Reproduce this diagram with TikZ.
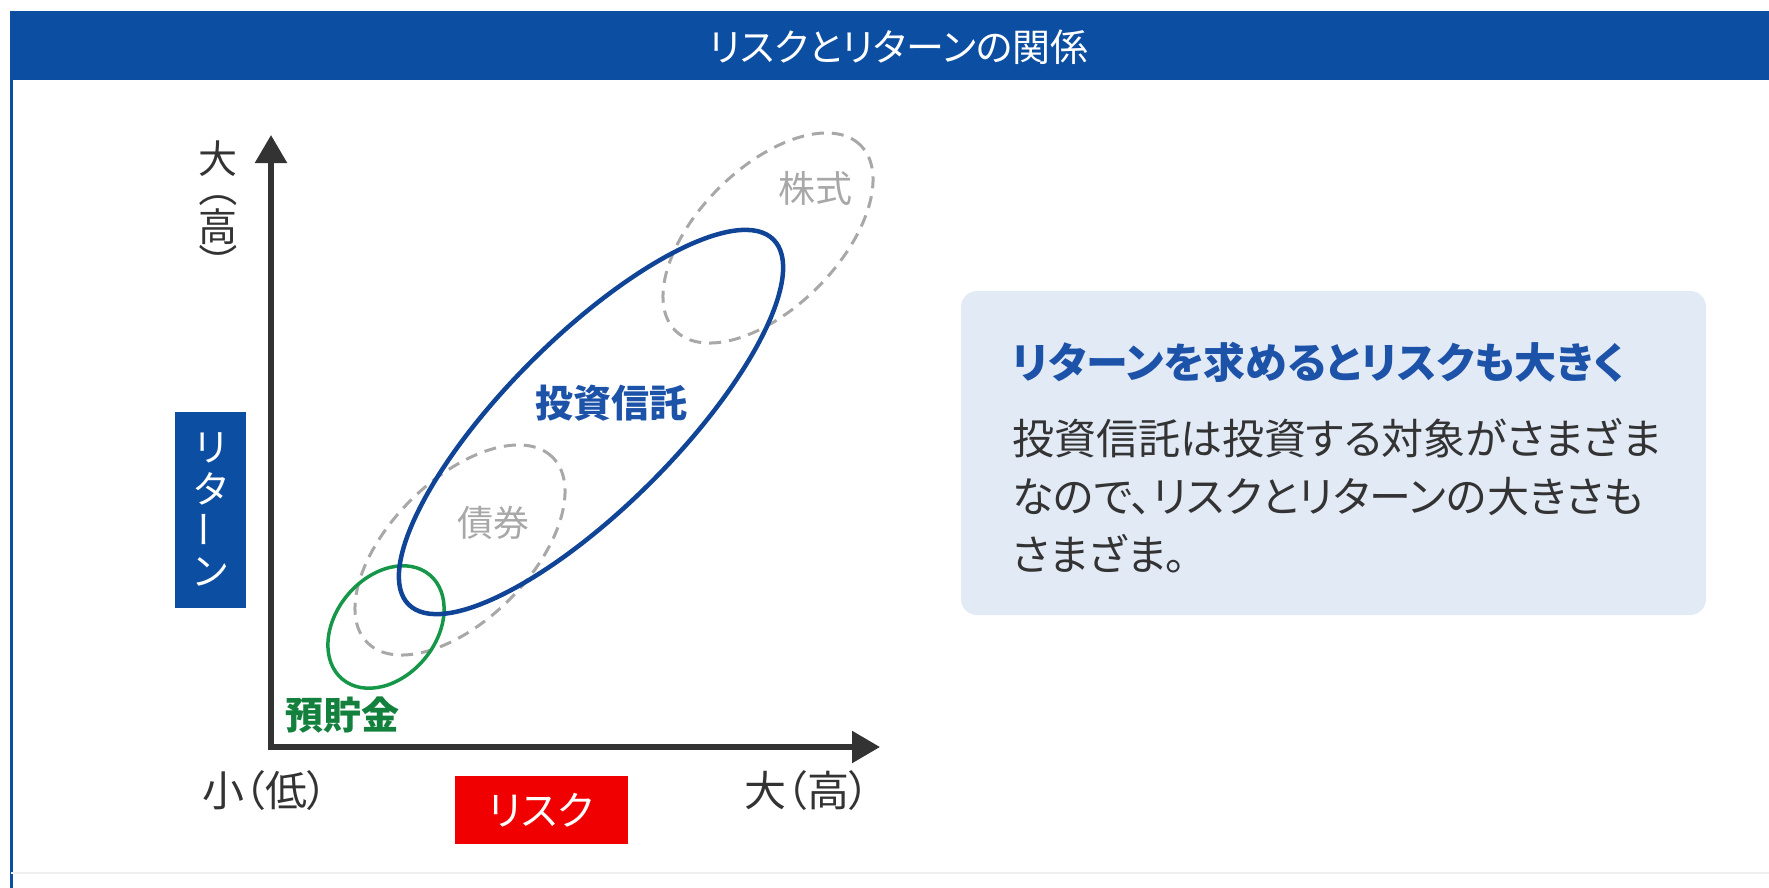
\documentclass[tikz,border=0pt]{standalone}
\usepackage{fontspec}
\usepackage{graphicx}
\setmainfont{Noto Sans CJK JP}[RawFeature=+palt]
\usetikzlibrary{arrows.meta,positioning,shapes.geometric}
\definecolor{headblue}{RGB}{12,78,162}
\definecolor{fundblue}{RGB}{16,68,150}
\definecolor{textblue}{RGB}{28,82,168}
\definecolor{savegreen}{RGB}{22,150,72}
\definecolor{riskred}{RGB}{240,0,0}
\definecolor{dashgray}{RGB}{168,168,168}
\definecolor{axisgray}{RGB}{51,51,51}
\definecolor{ink}{RGB}{51,51,51}
\definecolor{paleblue}{RGB}{226,234,246}
\newcommand{\jsize}[1]{\fontsize{#1}{#1}\selectfont}
\tikzset{
  >={Triangle[width=31pt,length=28pt]},
  axis/.style={<->,line width=5.5pt,draw=axisgray},
  ring/.style={ellipse,draw=#1,line width=4pt,inner sep=0pt},
  dashring/.style={ellipse,draw=dashgray,line width=3pt,dash pattern=on 12pt off 8pt,inner sep=0pt},
  tag/.style={text=#1,inner sep=0pt,font=\jsize{38}},
  tag/.default=ink,
  lay/.style={fill=#1,text=white,inner sep=0pt,font=\jsize{40}},
  vchar/.style={inner sep=0pt,font=\jsize{39}},
}

\begin{document}
\begin{tikzpicture}[x=1pt,y=-1pt]
  \useasboundingbox (0,0) rectangle (1769,888);
  % frame and title bar
  \draw[headblue,line width=3pt] (11,11) -- (11,888);
  \draw[black!6,line width=2pt] (11,873) -- (1769,873);
  \node[fill=headblue,minimum width=1758,minimum height=69,anchor=north west,inner sep=0pt] (head) at (11,11) {};
  \node[text=white,font=\jsize{38}] (title) at (899,47) {リスクとリターンの関係};

  % axes
  \coordinate (o) at (271,747);
  \coordinate (ytip) at (271,135);
  \coordinate (xtip) at (880,747);
  \draw[axis] (xtip) -- (o) -- (ytip);

  % ellipses
  \node[dashring,minimum width=262,minimum height=140,rotate=45] (stock) at (768,238) {};
  \node[dashring,minimum width=262,minimum height=140,rotate=45] (bond) at (460,550) {};
  \node[ring=savegreen,line width=3.5pt,minimum width=136,minimum height=100,rotate=50] (saving) at (386,627) {};
  \node[ring=fundblue,line width=4.5pt,minimum width=516,minimum height=170,rotate=45] (fund) at (591,422) {};

  \node[tag=dashgray,font=\jsize{37}] (stocklbl) at (815,188) {株式};
  \node[tag=dashgray,font=\jsize{36}] (bondlbl) at (493,523) {債券};
  \node[tag=textblue,font=\jsize{38}\bfseries] (fundlbl) at (611,403) {投資信託};
  \node[tag=savegreen!85!black,font=\jsize{38}\bfseries] (savelbl) at (342,715) {預貯金};

  % axis labels
  \foreach \ch/\yy/\r [count=\i] in {大/159/0,（/196/-90,高/227/0,）/255/-90}
    \node[vchar,text=ink,rotate=\r] (hi\i) at (218,\yy) {\ch};
  \node[lay=headblue,minimum width=71,minimum height=196] (ret) at (210.5,510) {};
  \foreach \ch/\yy/\r [count=\i] in {リ/448/0,タ/489/0,ー/530/90,ン/572/0}
    \node[vchar,text=white,font=\jsize{38},rotate=\r] (ret\i) at (210.5,\yy) {\ch};
  \node[tag,font=\jsize{42}] (lowlbl) at (265,791) {小（低）};
  \node[tag,font=\jsize{42}] (highlbl) at (807,791) {大（高）};
  \node[lay=riskred,minimum width=173,minimum height=68] (risk) at (541,810) {リスク};

  % explanation
  \node[fill=paleblue,rounded corners=16pt,minimum width=745,minimum height=324,inner sep=0pt] (info) at (1333.5,453) {};
  \node[anchor=west,text=textblue,font=\jsize{42}\bfseries,inner sep=0pt] (infohead) at (1012,362) {リターンを求めるとリスクも大きく};
  \node[anchor=north west,align=left,text=ink,font=\fontsize{42}{58}\selectfont,inner sep=0pt] (infotext) at (1012,418)
    {投資信託は投資する対象がさまざま\\なので、リスクとリターンの大きさも\\さまざま。};
\end{tikzpicture}
\end{document}
